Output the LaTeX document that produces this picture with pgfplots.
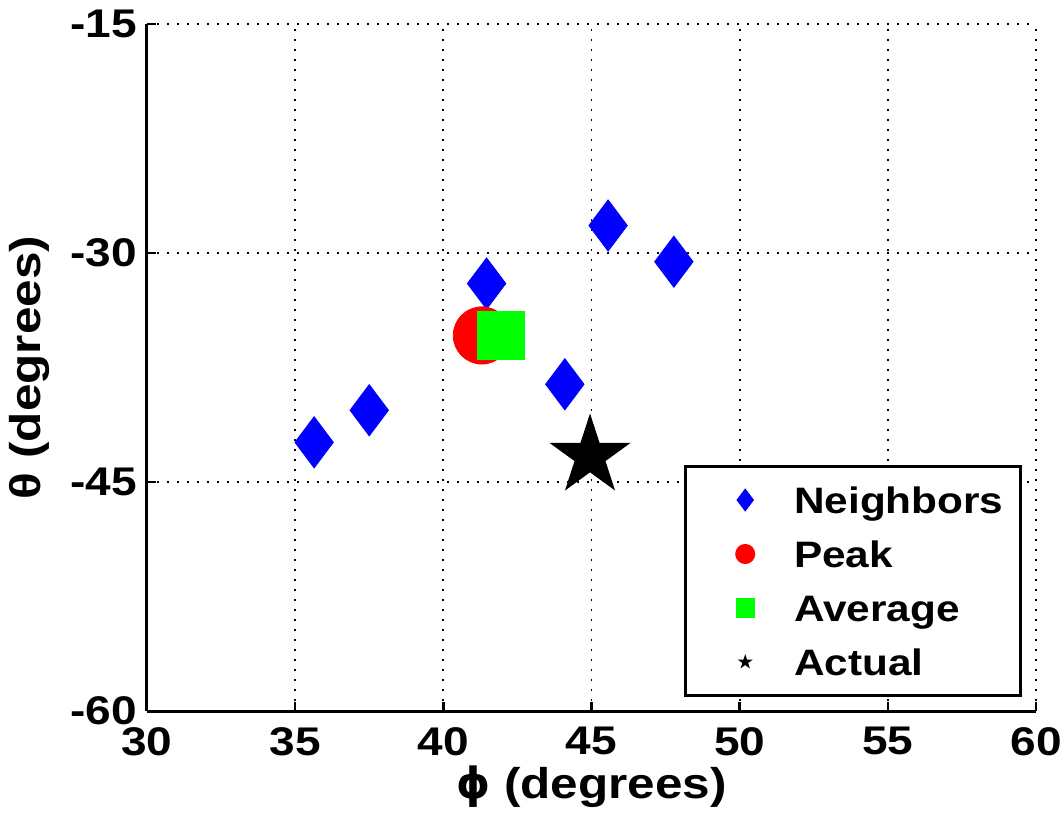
\documentclass[border=0pt]{standalone}
\usepackage{fontspec}
\setmainfont{Liberation Sans}[FakeStretch=1.15]
\newfontfamily\dejavu{DejaVu Sans}
\usepackage{pgfplots}
\pgfplotsset{compat=1.18}
\usetikzlibrary{plotmarks}

\pgfdeclareplotmark{fstar}{%
  \pgfpathmoveto{\pgfpointpolar{90}{\pgfplotmarksize}}%
  \pgfpathlineto{\pgfpointpolar{126}{0.382\pgfplotmarksize}}%
  \pgfpathlineto{\pgfpointpolar{162}{\pgfplotmarksize}}%
  \pgfpathlineto{\pgfpointpolar{198}{0.382\pgfplotmarksize}}%
  \pgfpathlineto{\pgfpointpolar{234}{\pgfplotmarksize}}%
  \pgfpathlineto{\pgfpointpolar{270}{0.382\pgfplotmarksize}}%
  \pgfpathlineto{\pgfpointpolar{306}{\pgfplotmarksize}}%
  \pgfpathlineto{\pgfpointpolar{342}{0.382\pgfplotmarksize}}%
  \pgfpathlineto{\pgfpointpolar{18}{\pgfplotmarksize}}%
  \pgfpathlineto{\pgfpointpolar{54}{0.382\pgfplotmarksize}}%
  \pgfpathclose
  \pgfusepathqfill
}

\begin{document}
\begin{tikzpicture}
\begin{axis}[
  scale only axis,
  width=444.5pt, height=343.5pt,
  xmin=30, xmax=60, ymin=-60, ymax=-15,
  xtick={30,35,40,45,50,55,60},
  xticklabels={30,35,40,45,50,55,60},
  ytick={-60,-45,-30,-15},
  yticklabels={-60,-45,-30,-15},
  axis x line*=bottom, axis y line*=left,
  axis line style={-, line width=1.5pt, black},
  tick align=inside,
  major tick length=4.5pt,
  every tick/.style={black, line width=1.2pt},
  grid=major,
  major grid style={black, line width=0.9pt, dash pattern=on 0.9pt off 4.1pt},
  ticklabel style={font=\fontsize{20}{24}\selectfont\bfseries},
  yticklabel style={anchor=east, inner sep=0pt, xshift=-5pt},
  xticklabel style={anchor=north, inner sep=0pt, yshift=-8pt},
  xlabel={{\dejavu\bfseries ϕ} (degrees)},
  ylabel={θ (degrees)},
  label style={font=\fontsize{21.5}{26}\selectfont\bfseries},
  xlabel style={at={(axis description cs:0.5,-0.0786)}, anchor=north, inner sep=0pt},
  ylabel style={at={(axis description cs:-0.1091,0.5)}, anchor=south, inner sep=0pt},
  legend image code/.code={\path[draw=none, fill=none] (-21.5pt,-6pt) rectangle (12pt,6pt); \draw[#1, line width=0.4pt] plot coordinates {(0pt,0pt)};},
  legend style={at={(1,0)}, anchor=south east, xshift=-7pt, yshift=7pt,
    draw=black, line width=1.5pt, inner xsep=8.5pt, inner ysep=6.25pt,
    row sep=6pt, column sep=12.5pt,
    font=\fontsize{18.4}{22}\selectfont\bfseries,
    cells={anchor=west},
    nodes={inner sep=0pt, text height=17pt, text depth=4pt}},
]
\addplot[only marks, mark=diamond*, color=blue, line width=0.4pt, mark size=12.8pt, forget plot]
  coordinates {(35.64,-42.4) (37.5,-40.3) (41.46,-32.0) (44.1,-38.6) (45.56,-28.2) (47.78,-30.57)};
\addplot[only marks, mark=*, color=red, line width=0.4pt, mark size=14.3pt, forget plot]
  coordinates {(41.3,-35.4)};
\addplot[only marks, mark=square*, color=green, line width=0.4pt, mark size=11.8pt, forget plot]
  coordinates {(41.95,-35.4)};
\addplot[only marks, mark=fstar, color=black, mark size=21.3pt, forget plot]
  coordinates {(44.95,-43.3)};

\addlegendimage{only marks, mark=diamond*, color=blue, mark size=5.5pt}
\addlegendentry{Neighbors}
\addlegendimage{only marks, mark=*, color=red, mark size=4.8pt}
\addlegendentry{Peak}
\addlegendimage{only marks, mark=square*, color=green, mark size=4.6pt}
\addlegendentry{Average}
\addlegendimage{only marks, mark=fstar, color=black, mark size=4pt}
\addlegendentry{Actual}
\end{axis}
\pgfresetboundingbox
\path ([shift={(-73.5pt,-53.5pt)}]current axis.south west) rectangle ([shift={(13.5pt,12pt)}]current axis.north east);
\end{tikzpicture}
\end{document}
